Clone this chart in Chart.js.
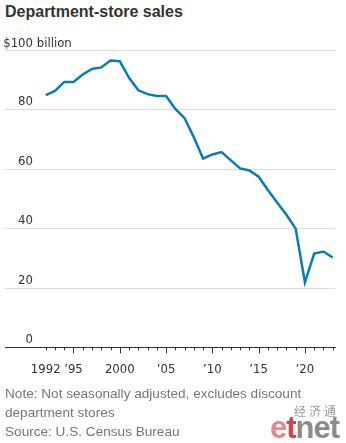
<!DOCTYPE html>
<html>
<head>
<meta charset="utf-8">
<script src="https://cdn.jsdelivr.net/npm/chart.js@4/dist/chart.umd.min.js"></script>
<style>
  html, body { margin: 0; padding: 0; background: #fff; }
  body { width: 346px; height: 443px; position: relative; overflow: hidden; }
  #title { position: absolute; left: 5px; top: 4px; font: 700 16px "Liberation Sans", Arial, sans-serif; color: #333; line-height: 1; white-space: nowrap; }
  #wrap { position: absolute; left: 0; top: 0; width: 346px; height: 395px; }
  #notes { position: absolute; left: 5px; top: 385px; font: 13.6px "Liberation Sans", Arial, sans-serif; color: #767676; line-height: 18.8px; white-space: nowrap; }
  #wm-cn { position: absolute; left: 294px; top: 402px; font: 12px "Noto Sans CJK SC", sans-serif; color: #9a9a9a; letter-spacing: 3px; white-space: nowrap; }
  #wm-en { position: absolute; left: 270px; top: 412px; font: 700 31px "Liberation Sans", Arial, sans-serif; letter-spacing: -1px; line-height: 1; white-space: nowrap; }
</style>
</head>
<body>
<div id="title">Department-store sales</div>
<div id="wrap"><canvas id="c"></canvas></div>
<div id="notes">Note: Not seasonally adjusted, excludes discount<br>department stores<br>Source: U.S. Census Bureau</div>
<div id="wm-cn">经济通</div>
<div id="wm-en"><span style="color:#e8868c">e</span><span style="color:#d9434c">t</span><span style="color:#8c8c8c">net</span></div>
<script>
// ---- data ----
const years = [1992,1993,1994,1995,1996,1997,1998,1999,2000,2001,2002,2003,2004,2005,2006,2007,2008,2009,2010,2011,2012,2013,2014,2015,2016,2017,2018,2019,2020,2021,2022,2023];
const sales = [85.0,86.4,89.4,89.4,91.9,93.8,94.3,96.6,96.4,90.8,86.6,85.3,84.7,84.7,80.3,77.2,70.8,63.6,65.0,65.8,63.0,60.3,59.6,57.5,53.0,48.8,44.7,40.0,21.9,31.6,32.3,30.3];
const yTicks = [0,20,40,60,80,100];
const yTickLabels = ['0','20','40','60','80','$100 billion'];
const xLabelYears = [1992,1995,2000,2005,2010,2015,2020];
const xLabels = ['1992','\u201995','2000','\u201905','\u201910','\u201915','\u201920'];

const AXIS_FONT = '"DejaVu Sans Condensed", "DejaVu Sans", sans-serif';

const labelPlugin = {
  id: 'customAxis',
  afterDraw(chart) {
    const { ctx, scales: { x, y } } = chart;
    ctx.save();
    ctx.font = '13px ' + AXIS_FONT;
    ctx.fillStyle = '#333';
    ctx.textBaseline = 'alphabetic';
    const rightEdge = 33;
    yTicks.forEach((v, i) => {
      const py = y.getPixelForValue(v);
      const lbl = yTickLabels[i];
      if (lbl.indexOf(' ') > -1) {
        const num = lbl.split(' ')[0];
        const w = ctx.measureText(num).width;
        ctx.textAlign = 'left';
        ctx.fillText(lbl, rightEdge - w, py - 3.5);
      } else {
        ctx.textAlign = 'right';
        ctx.fillText(lbl, rightEdge, py - 4.5);
      }
    });
    ctx.strokeStyle = '#333';
    ctx.lineWidth = 1;
    for (let yr = years[0]; yr <= years[years.length - 1]; yr++) {
      const px = Math.round(x.getPixelForValue(yr)) + 0.5;
      const len = yr % 5 === 0 ? 6 : 3;
      ctx.beginPath();
      ctx.moveTo(px, y.bottom);
      ctx.lineTo(px, y.bottom + len);
      ctx.stroke();
    }
    ctx.restore();
  }
};

new Chart(document.getElementById('c'), {
  type: 'line',
  data: {
    datasets: [{
      data: years.map((yr, i) => ({ x: yr, y: sales[i] })),
      borderColor: '#0b7bb5',
      borderWidth: 2.5,
      pointRadius: 0,
      tension: 0,
      fill: false
    }]
  },
  options: {
    responsive: true,
    maintainAspectRatio: false,
    animation: false,
    events: [],
    layout: { padding: { left: 5, right: 11, top: 50.5, bottom: 4 } },
    plugins: { legend: { display: false }, tooltip: { enabled: false }, title: { display: false } },
    scales: {
      x: {
        type: 'linear',
        min: 1987.6,
        max: 2023.25,
        afterBuildTicks: (s) => { s.ticks = xLabelYears.map(v => ({ value: v })); },
        ticks: {
          autoSkip: false,
          maxRotation: 0,
          padding: 14,
          color: '#333',
          font: { family: AXIS_FONT, size: 13 },
          callback: (v) => { const i = xLabelYears.indexOf(v); return i > -1 ? xLabels[i] : ''; }
        },
        grid: { display: true, drawOnChartArea: false, drawTicks: false },
        border: { display: true, color: '#333', width: 1 }
      },
      y: {
        type: 'linear',
        min: 0,
        max: 100,
        afterBuildTicks: (s) => { s.ticks = yTicks.map(v => ({ value: v })); },
        ticks: { display: false },
        grid: { drawTicks: false, color: (c) => c.tick && c.tick.value === 0 ? 'rgba(0,0,0,0)' : '#dedede', lineWidth: 1 },
        border: { display: false }
      }
    }
  },
  plugins: [labelPlugin]
});
</script>
</body>
</html>
